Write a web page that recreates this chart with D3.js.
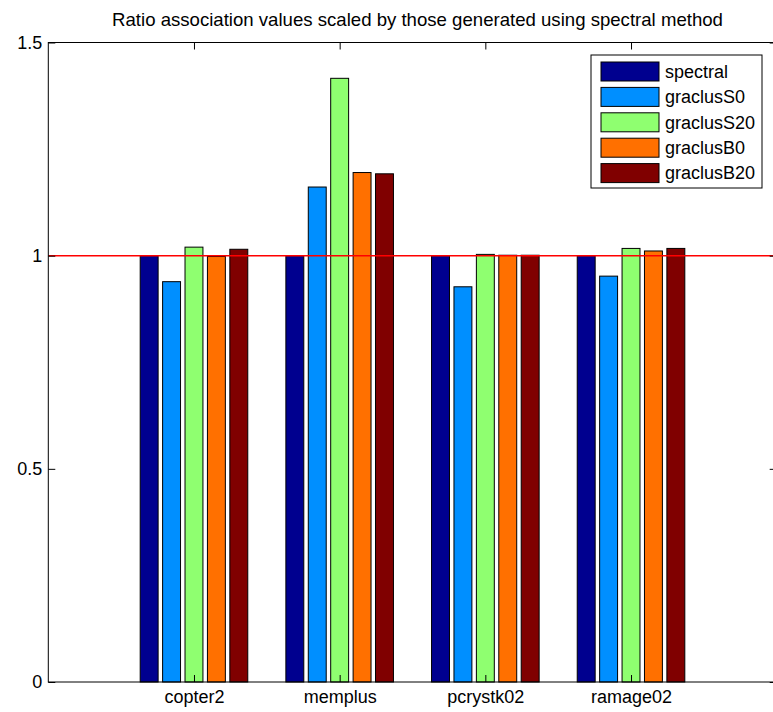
<!DOCTYPE html>
<html>
<head>
<meta charset="utf-8">
<script src="https://cdn.jsdelivr.net/npm/d3@7"></script>
<style>
  html, body { margin: 0; padding: 0; background: #fff; }
  svg { display: block; font-family: "Liberation Sans", Arial, sans-serif; }
</style>
</head>
<body>
<svg id="chart" width="773" height="712"></svg>
<script>
// Data
const categories = ['copter2', 'memplus', 'pcrystk02', 'ramage02'];
const seriesNames = ['spectral', 'graclusS0', 'graclusS20', 'graclusB0', 'graclusB20'];
const spectral   = [1.000, 1.000, 1.000, 1.000];
const graclusS0  = [0.939, 1.161, 0.927, 0.952];
const graclusS20 = [1.020, 1.416, 1.003, 1.017];
const graclusB0  = [0.998, 1.195, 1.001, 1.011];
const graclusB20 = [1.015, 1.192, 1.001, 1.017];
const yTicks = [0, 0.5, 1, 1.5];
const yTickLabels = ['0', '0.5', '1', '1.5'];
const refLine = 1;

const seriesValues = [spectral, graclusS0, graclusS20, graclusB0, graclusB20];
const colors = ['#00008F', '#008FFF', '#8FFF70', '#FF7000', '#800000'];

// Layout
const plot = { left: 48.3, right: 776.7, top: 42.5, bottom: 682 };
const FONT = 18;

const svg = d3.select('#chart');

const x = d3.scaleLinear().domain([0, categories.length + 1]).range([plot.left, plot.right]);
const y = d3.scaleLinear().domain([0, 1.5]).range([plot.bottom, plot.top]);

// grouped bar geometry, same rule as MATLAB's bar()
const n = seriesNames.length;
const groupWidth = Math.min(0.8, n / (n + 1.5));
const step = groupWidth / n;
const barW = step * 0.8;

// ── Bars ──────────────────────────────────────────────────────────────────
const rows = [];
seriesValues.forEach((vals, s) => {
  vals.forEach((v, c) => rows.push({ s, c, v }));
});

svg.append('g')
  .selectAll('rect')
  .data(rows)
  .join('rect')
  .attr('x', d => x(d.c + 1 + (d.s - (n - 1) / 2) * step - barW / 2))
  .attr('width', d => x(barW) - x(0))
  .attr('y', d => y(d.v))
  .attr('height', d => y(0) - y(d.v))
  .attr('fill', d => colors[d.s])
  .attr('stroke', '#000')
  .attr('stroke-width', 1);

// ── Reference line ────────────────────────────────────────────────────────
svg.append('line')
  .attr('x1', plot.left).attr('x2', plot.right)
  .attr('y1', y(refLine)).attr('y2', y(refLine))
  .attr('stroke', '#FF0000')
  .attr('stroke-width', 1.5);

// ── Axes box ──────────────────────────────────────────────────────────────
const axisG = svg.append('g');
axisG.append('rect')
  .attr('x', plot.left).attr('y', plot.top)
  .attr('width', plot.right - plot.left).attr('height', plot.bottom - plot.top)
  .attr('fill', 'none').attr('stroke', '#000').attr('stroke-width', 1);

const tickLen = 7;

// left axis (inward ticks)
const leftAxis = axisG.append('g')
  .attr('transform', `translate(${plot.left},0)`)
  .call(d3.axisLeft(y).tickValues(yTicks).tickSize(-tickLen).tickPadding(6)
    .tickFormat((d, i) => yTickLabels[i]));
leftAxis.select('.domain').remove();
leftAxis.selectAll('text').attr('font-size', FONT).attr('fill', '#000')
  .attr('font-family', '"Liberation Sans", Arial, sans-serif');

// right axis ticks
const rightAxis = axisG.append('g')
  .attr('transform', `translate(${plot.right},0)`)
  .call(d3.axisRight(y).tickValues(yTicks).tickSize(-tickLen).tickFormat(''));
rightAxis.select('.domain').remove();

// top axis ticks at category positions
const catTicks = categories.map((c, i) => i + 1);
const topAxis = axisG.append('g')
  .attr('transform', `translate(0,${plot.top})`)
  .call(d3.axisTop(x).tickValues(catTicks).tickSize(-tickLen).tickFormat(''));
topAxis.select('.domain').remove();

// bottom axis with category labels
const bottomAxis = axisG.append('g')
  .attr('transform', `translate(0,${plot.bottom})`)
  .call(d3.axisBottom(x).tickValues(catTicks).tickSize(-tickLen).tickPadding(8)
    .tickFormat((d, i) => categories[i]));
bottomAxis.select('.domain').remove();
bottomAxis.selectAll('text').attr('font-size', FONT).attr('fill', '#000')
  .attr('font-family', '"Liberation Sans", Arial, sans-serif');

// ── Title ─────────────────────────────────────────────────────────────────
svg.append('text')
  .attr('x', (plot.left + plot.right) / 2 + 5)
  .attr('y', 26)
  .attr('text-anchor', 'middle')
  .attr('font-size', 18.6)
  .text('Ratio association values scaled by those generated using spectral method');

// ── Legend ────────────────────────────────────────────────────────────────
const legend = svg.append('g').attr('transform', 'translate(591,55)');
legend.append('rect')
  .attr('width', 171).attr('height', 133)
  .attr('fill', '#fff').attr('stroke', '#000').attr('stroke-width', 1);

const item = legend.selectAll('g.item')
  .data(seriesNames)
  .join('g')
  .attr('class', 'item')
  .attr('transform', (d, i) => `translate(10,${7 + i * 25.4})`);

item.append('rect')
  .attr('width', 58).attr('height', 19)
  .attr('fill', (d, i) => colors[i])
  .attr('stroke', '#000').attr('stroke-width', 1);

item.append('text')
  .attr('x', 64).attr('y', 9.5)
  .attr('dy', '0.35em')
  .attr('font-size', FONT)
  .text(d => d);
</script>
</body>
</html>
